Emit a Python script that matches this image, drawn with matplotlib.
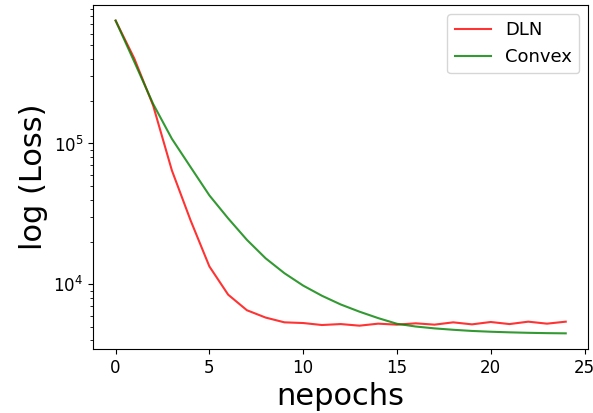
import matplotlib
matplotlib.use("Agg")
import matplotlib.pyplot as plt

epochs = list(range(25))
dln_loss = [745000, 400000, 186000, 64400, 28400, 13400, 8450, 6550, 5810, 5375,
            5315, 5145, 5225, 5090, 5260, 5175, 5290, 5175, 5375, 5200,
            5405, 5225, 5435, 5260, 5435]
convex_loss = [745000, 379000, 191000, 108000, 67900, 42800, 29400, 20700, 15300, 12000,
               9800, 8300, 7200, 6400, 5760, 5250, 5020, 4870, 4760, 4670,
               4610, 4565, 4530, 4505, 4490]

fig = plt.figure(figsize=(5.93, 4.13), dpi=100)
ax = fig.add_axes([0.157, 0.155, 0.835, 0.833])
ax.plot(epochs, dln_loss, color="r", alpha=0.8, linewidth=1.5, label="DLN")
ax.plot(epochs, convex_loss, color="g", alpha=0.8, linewidth=1.5, label="Convex")
ax.set_yscale("log")
ax.set_xlabel("nepochs", fontsize=22)
ax.set_ylabel("log (Loss)", fontsize=22)
ax.tick_params(axis="both", labelsize=12)
ax.legend(loc="upper right", fontsize=13)
fig.savefig("out.png", dpi=100)
